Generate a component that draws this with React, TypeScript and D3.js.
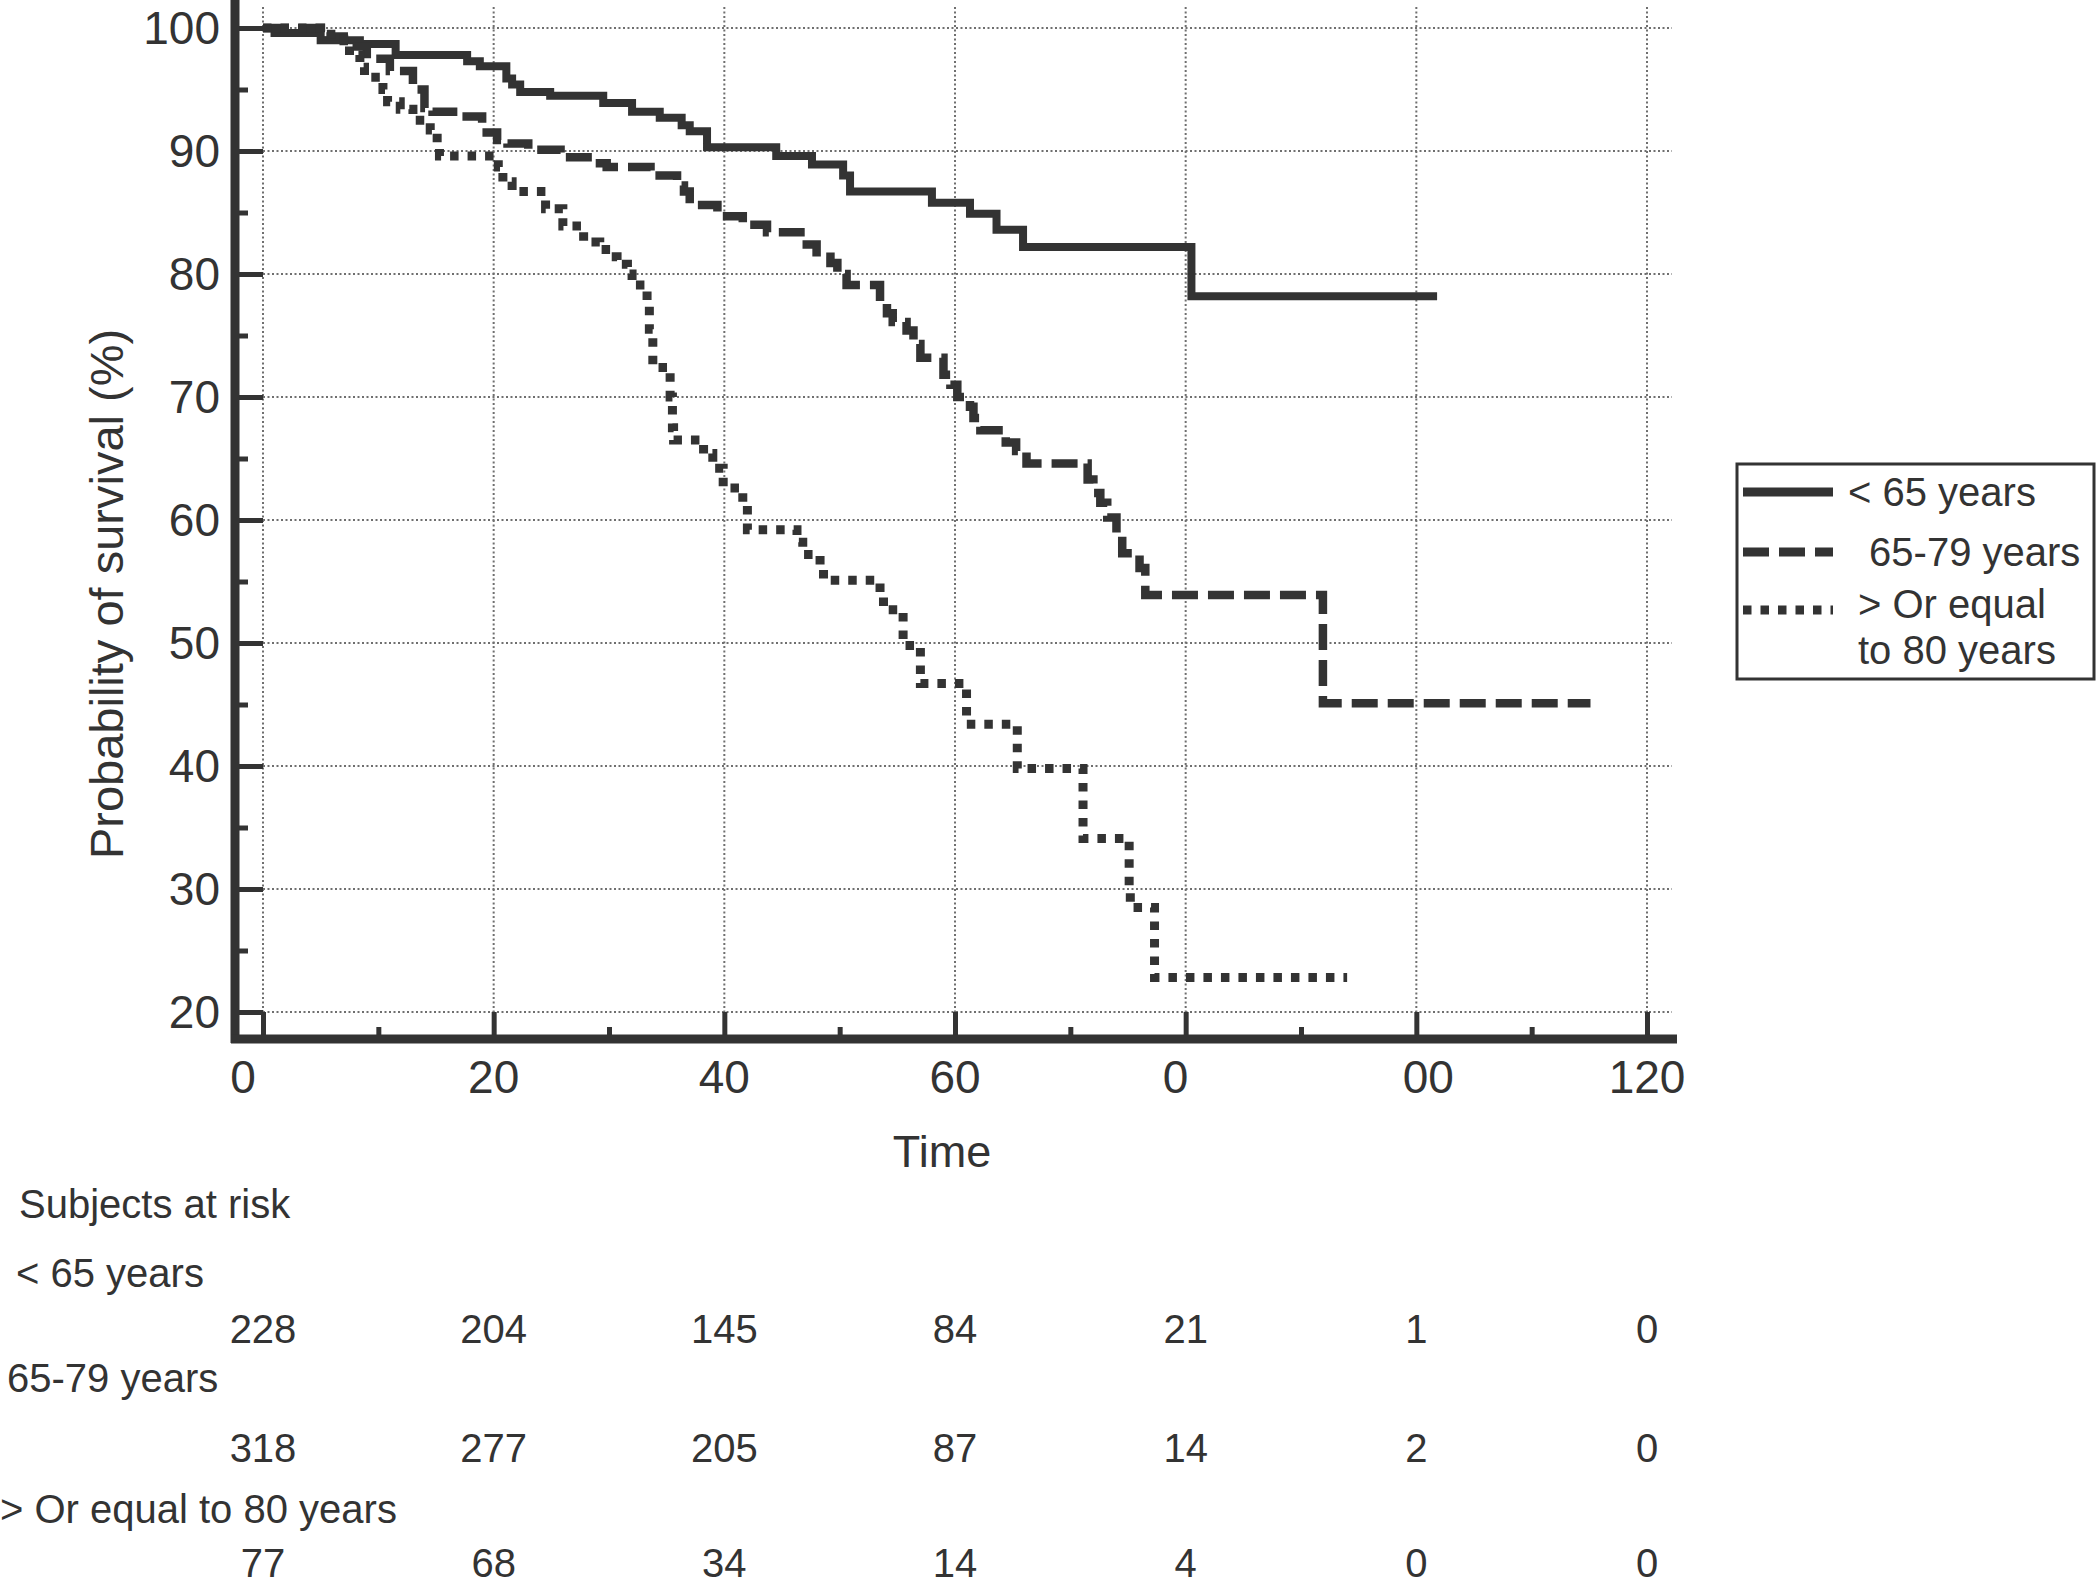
import React, { useEffect, useRef } from 'react';
import * as d3 from 'd3';

// Kaplan-Meier steps: [time, survival %]
const under65: [number, number][] = [
  [0, 100], [1, 99.6], [5, 99.0], [8.4, 98.7], [11.5, 97.8], [17.7, 97.3], [18.8, 96.9],
  [21.1, 95.9], [21.6, 95.4], [22.3, 94.8], [24.9, 94.5], [29.5, 93.9], [32, 93.2],
  [34.4, 92.7], [36.3, 92.1], [37, 91.6], [38.5, 90.3], [44.5, 89.6], [47.6, 88.9],
  [50.3, 88.0], [50.9, 86.7], [58, 85.8], [61.3, 84.9], [63.6, 83.6], [65.9, 82.2],
  [80.5, 78.2], [101.8, 78.2],
];

const age65to79: [number, number][] = [
  [0, 100], [5.5, 99.3], [7, 98.5], [9, 97.5], [11, 96.5], [13, 95.0], [14, 93.5],
  [14.7, 93.2], [17, 92.8], [19, 91.5], [20.3, 90.9], [21.2, 90.6], [23, 90.1],
  [25.8, 89.5], [28.6, 89.0], [29.8, 88.7], [33.6, 88.0], [35.9, 87.2], [36.5, 86.7],
  [37, 85.6], [39.4, 84.7], [41.6, 84.0], [43.7, 83.4], [46.6, 82.4], [48, 81.4],
  [49.2, 80.9], [49.8, 80.0], [50.6, 79.1], [53.5, 77.8], [54.1, 76.8], [54.6, 76.1],
  [55.8, 75.4], [56.4, 74.3], [57, 73.2], [59, 71.8], [59.6, 71.0], [60.2, 70.0],
  [61.3, 69.2], [61.6, 68.3], [62.2, 67.3], [64.4, 66.3], [65.3, 65.6], [66.2, 64.6],
  [71.5, 63.3], [72, 62.2], [72.6, 61.4], [73.2, 60.2], [74, 58.9], [74.5, 57.3],
  [76, 56.1], [76.5, 53.9], [91.9, 45.1], [115.1, 45.1],
];

const age80plus: [number, number][] = [
  [0, 100], [5, 99.5], [7, 98.5], [7.5, 97.8], [8.4, 96.8], [8.8, 96.0], [10.4, 95.0],
  [10.8, 94.0], [11.9, 93.4], [13, 92.5], [14.5, 91.7], [15.1, 90.7], [15.3, 89.6],
  [20.4, 88.7], [20.8, 87.5], [21.6, 86.7], [24.5, 85.3], [26, 83.9], [27.8, 82.6],
  [29.2, 82.0], [30.1, 81.4], [30.7, 80.8], [31.6, 80.0], [32, 79.1], [33.3, 77.5],
  [33.5, 75.5], [33.8, 72.4], [35.3, 70], [35.5, 67.5], [35.6, 66.5], [38.2, 65.4],
  [39, 64.2], [39.9, 62.6], [41.6, 61.3], [42, 59.2], [46.3, 58.2], [46.8, 57.2],
  [48.3, 56.2], [48.6, 55.1], [53.5, 53.7], [53.8, 52.7], [55.5, 49.8], [57, 46.7],
  [61, 43.4], [65.4, 39.8], [71.1, 34.1], [75.1, 30], [75.2, 28.5], [77.3, 22.8],
  [94, 22.8],
];

const xTicks = [0, 20, 40, 60, 80, 100, 120];
// tick labels as printed in the figure (80 and 100 are cut off there)
const xTickLabels = ['0', '20', '40', '60', '0', '00', '120'];
const yTicks = [20, 30, 40, 50, 60, 70, 80, 90, 100];

const seriesNames = ['< 65 years', ' 65-79 years', '> Or equal', 'to 80 years'];
const riskLabels = ['< 65 years', '65-79 years', '> Or equal to 80 years'];
const riskUnder65 = [228, 204, 145, 84, 21, 1, 0];
const risk65to79 = [318, 277, 205, 87, 14, 2, 0];
const risk80plus = [77, 68, 34, 14, 4, 0, 0];

const INK = '#333';
const FONT = '"Liberation Sans", Arial, Helvetica, sans-serif';

const App: React.FC = () => {
  const svgRef = useRef<SVGSVGElement>(null);

  useEffect(() => {
    if (!svgRef.current) return;
    d3.select(svgRef.current).selectAll('*').remove();

    const svg = d3.select(svgRef.current);

    const x = d3.scaleLinear().domain([0, 120]).range([263, 1647]);
    const y = d3.scaleLinear().domain([20, 100]).range([1012, 28]);

    const yAxisX = 235;
    const xAxisY = 1039;

    // grid
    const grid = svg.append('g')
      .attr('stroke', '#6f6f6f')
      .attr('stroke-width', 2)
      .attr('stroke-dasharray', '2 2.5');
    grid.selectAll('line.h')
      .data(yTicks)
      .enter()
      .append('line')
      .attr('x1', x(0))
      .attr('x2', 1672)
      .attr('y1', d => y(d))
      .attr('y2', d => y(d));
    grid.selectAll('line.v')
      .data(xTicks)
      .enter()
      .append('line')
      .attr('x1', d => x(d))
      .attr('x2', d => x(d))
      .attr('y1', 7)
      .attr('y2', xAxisY);

    // y ticks (pointing inwards)
    const yMajor = svg.append('g')
      .attr('transform', `translate(${yAxisX},0)`)
      .call(d3.axisRight(y).tickValues(yTicks).tickSize(x(0) - yAxisX).tickFormat(() => ''));
    const yMinor = svg.append('g')
      .attr('transform', `translate(${yAxisX},0)`)
      .call(d3.axisRight(y).tickValues(d3.range(25, 100, 10)).tickSize(13).tickFormat(() => ''));
    [yMajor, yMinor].forEach(g => {
      g.select('.domain').remove();
      g.selectAll('line').attr('stroke', INK).attr('stroke-width', 5);
    });

    // x ticks (pointing up)
    const xMajor = svg.append('g')
      .attr('transform', `translate(0,${xAxisY})`)
      .call(d3.axisTop(x).tickValues(xTicks).tickSize(xAxisY - y(20)).tickFormat(() => ''));
    const xMinor = svg.append('g')
      .attr('transform', `translate(0,${xAxisY})`)
      .call(d3.axisTop(x).tickValues(d3.range(10, 120, 20)).tickSize(12).tickFormat(() => ''));
    [xMajor, xMinor].forEach(g => {
      g.select('.domain').remove();
      g.selectAll('line').attr('stroke', INK).attr('stroke-width', 5);
    });

    // axis lines
    svg.append('line')
      .attr('x1', yAxisX).attr('x2', yAxisX)
      .attr('y1', 0).attr('y2', xAxisY + 4)
      .attr('stroke', INK).attr('stroke-width', 9);
    svg.append('line')
      .attr('x1', yAxisX - 4).attr('x2', 1677)
      .attr('y1', xAxisY).attr('y2', xAxisY)
      .attr('stroke', INK).attr('stroke-width', 9);

    // tick labels
    svg.append('g')
      .selectAll('text')
      .data(yTicks)
      .enter()
      .append('text')
      .attr('x', 220)
      .attr('y', d => y(d) + 16)
      .attr('text-anchor', 'end')
      .attr('font-size', 46)
      .text(d => String(d));

    svg.append('g')
      .selectAll('text')
      .data(xTicks)
      .enter()
      .append('text')
      .attr('x', d => x(d))
      .attr('dx', (d, i) => (i === 0 ? -20 : i === 4 ? -10 : i === 5 ? 12 : 0))
      .attr('y', 1093)
      .attr('text-anchor', 'middle')
      .attr('font-size', 46)
      .text((d, i) => xTickLabels[i]);

    // axis titles
    svg.append('text')
      .attr('transform', `translate(123,594) rotate(-90)`)
      .attr('text-anchor', 'middle')
      .attr('font-size', 47)
      .text('Probability of survival (%)');

    svg.append('text')
      .attr('x', 942)
      .attr('y', 1167)
      .attr('text-anchor', 'middle')
      .attr('font-size', 45)
      .text('Time');

    // survival curves
    const line = d3.line<[number, number]>()
      .x(d => x(d[0]))
      .y(d => y(d[1]))
      .curve(d3.curveStepAfter);

    const curves = [
      { data: under65, dash: null, width: 8 },
      { data: age65to79, dash: '26 10', width: 8.5 },
      { data: age80plus, dash: '8.5 9', width: 9 },
    ];
    svg.append('g')
      .selectAll('path')
      .data(curves)
      .enter()
      .append('path')
      .attr('d', d => line(d.data))
      .attr('fill', 'none')
      .attr('stroke', INK)
      .attr('stroke-width', d => d.width)
      .attr('stroke-dasharray', d => d.dash);

    // legend
    const legend = svg.append('g');
    legend.append('rect')
      .attr('x', 1737).attr('y', 464)
      .attr('width', 357).attr('height', 215)
      .attr('fill', 'white')
      .attr('stroke', INK)
      .attr('stroke-width', 3);
    const sampleY = [492, 552, 610];
    curves.forEach((c, i) => {
      legend.append('line')
        .attr('x1', 1743).attr('x2', 1833)
        .attr('y1', sampleY[i]).attr('y2', sampleY[i])
        .attr('stroke', INK)
        .attr('stroke-width', 9)
        .attr('stroke-dasharray', c.dash);
    });
    const legendPos = [[1848, 506], [1858, 566], [1858, 618], [1858, 664]];
    legend.selectAll('text')
      .data(seriesNames)
      .enter()
      .append('text')
      .attr('x', (d, i) => legendPos[i][0])
      .attr('y', (d, i) => legendPos[i][1])
      .attr('font-size', 40)
      .attr('xml:space', 'preserve')
      .style('white-space', 'pre')
      .text(d => d);

    // subjects at risk table
    const table = svg.append('g').attr('font-size', 40);
    table.append('text').attr('x', 19).attr('y', 1218).text('Subjects at risk');
    const labelPos = [[16, 1287], [7, 1392], [0, 1523]];
    riskLabels.forEach((lab, i) => {
      table.append('text').attr('x', labelPos[i][0]).attr('y', labelPos[i][1]).text(lab);
    });
    const rows = [riskUnder65, risk65to79, risk80plus];
    const rowY = [1343, 1462, 1577];
    rows.forEach((row, r) => {
      table.append('g')
        .selectAll('text')
        .data(row)
        .enter()
        .append('text')
        .attr('x', (d, i) => x(xTicks[i]))
        .attr('y', rowY[r])
        .attr('text-anchor', 'middle')
        .text(d => String(d));
    });
  }, []);

  return (
    <svg
      ref={svgRef}
      width={2096}
      height={1590}
      style={{ position: 'absolute', left: 0, top: 0, background: 'white', fontFamily: FONT, fill: INK }}
    />
  );
};

export default App;
